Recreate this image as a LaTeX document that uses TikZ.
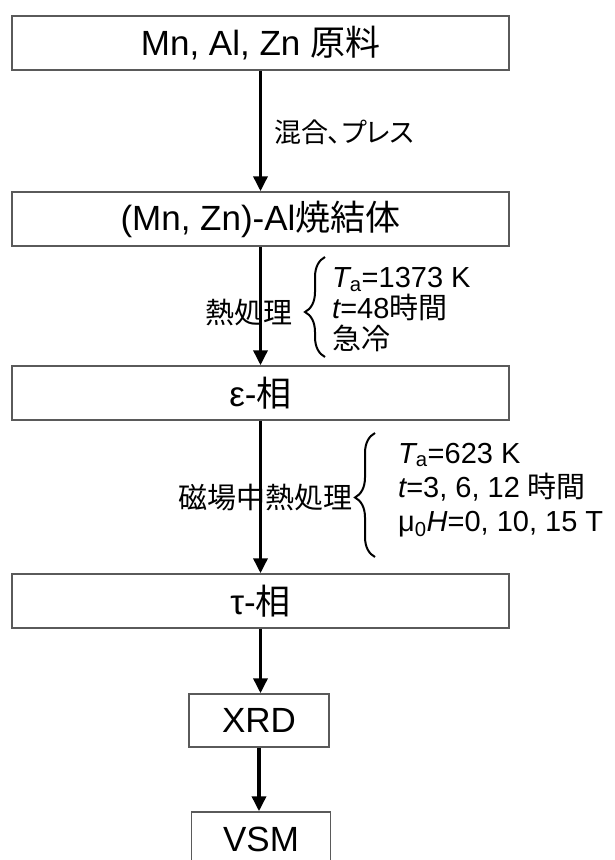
\documentclass[tikz,border=0pt]{standalone}
\usepackage{fontspec}
\setmainfont{Liberation Sans}
\newfontfamily\jp{Noto Sans CJK JP}
\newfontfamily\jpp[RawFeature=+palt]{Noto Sans CJK JP}
\usetikzlibrary{arrows.meta,decorations.pathreplacing}
\definecolor{boxgray}{RGB}{90,90,90}
\begin{document}
\begin{tikzpicture}[x=1pt,y=-1pt,
  box/.style={draw=boxgray,line width=1.5pt,minimum height=54pt,inner sep=0pt,font=\fontsize{35}{40}\selectfont},
  flow/.style={line width=3.5pt,-{Triangle[width=14pt,length=15pt]}},
  brc/.style={decorate,decoration={brace,amplitude=20pt,aspect=#1},line width=2pt},
  lab/.style={font=\fontsize{29}{31}\selectfont,inner sep=0pt}]
\useasboundingbox (0,0) rectangle (614,860);
\clip (0,0) rectangle (614,860);

\node[box,minimum width=497pt] (b1) at (260.5,43) {Mn, Al, Zn {\jp 原料}};
\node[box,minimum width=497pt] (b2) at (260.5,219) {(Mn, Zn)-Al{\jp 焼結体}};
\node[box,minimum width=497pt] (b3) at (260.5,393) {ε-{\jp 相}};
\node[box,minimum width=497pt] (b4) at (260.5,601) {τ-{\jp 相}};
\node[box,minimum width=140pt,minimum height=53pt] (xrd) at (259,720.5) {XRD};
\node[box,minimum width=139pt] (vsm) at (261,839) {VSM};

% labels
\node[lab,anchor=west,font=\fontsize{27}{30}\selectfont] (l1) at (274,132) {\jpp 混合、プレス};
\node[lab,anchor=east] (l2) at (293,313) {\jp 熱処理};
\node[lab,anchor=east] (l3) at (353,498) {\jp 磁場中熱処理};

% braces
\coordinate (br1a) at (325,357);
\coordinate (br1b) at (325,257);
\draw[brc=0.45] (br1a) -- (br1b);
\coordinate (br2a) at (375,557);
\coordinate (br2b) at (375,433);
\draw[brc=0.48] (br2a) -- (br2b);

\node[lab,anchor=west,align=left] (p1) at (332,310)
  {{\itshape T}\textsubscript{a}=1373 K\\{\itshape t}=48{\jp 時間}\\{\jp 急冷}};
\node[lab,anchor=west,align=left,font=\fontsize{29}{34}\selectfont] (p2) at (398,490)
  {{\itshape T}\textsubscript{a}=623 K\\{\itshape t}=3, 6, 12 {\jp 時間}\\μ\textsubscript{0}{\itshape H}=0, 10, 15 T};

% arrows
\draw[flow] (b1) -- (b2);
\draw[flow] (b2) -- (b3);
\draw[flow] (b3) -- (b4);
\draw[flow] (b4.south) -- (b4.south |- xrd.north);
\draw[flow] (xrd.south) -- (xrd.south |- vsm.north);
\end{tikzpicture}
\end{document}
